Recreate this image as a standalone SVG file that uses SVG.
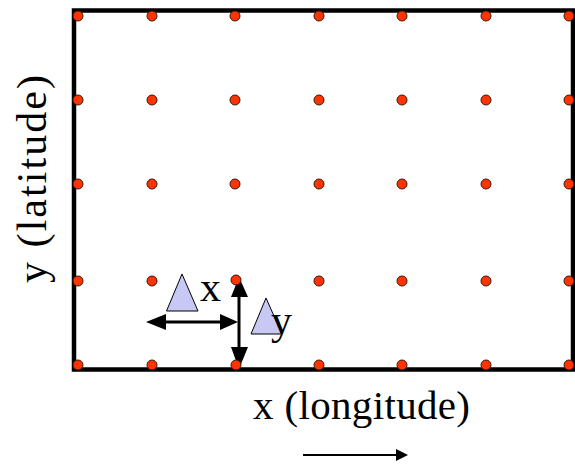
<svg xmlns="http://www.w3.org/2000/svg" width="575" height="466" viewBox="0 0 575 466">
<style>
.dot{fill:#ff3300;stroke:#3a1a10;stroke-width:1}
.lbl{fill:#000}
.tri{fill:#c8c8f4;stroke:#000;stroke-width:1}
.ln{stroke:#000;fill:none}
</style>
<rect x="0" y="0" width="575" height="466" fill="#fff"/>
<g id="frame">
<rect x="74" y="10.5" width="499" height="359" fill="#fff" stroke="#000" stroke-width="4.5"/>
</g>
<g id="connectors">
<line class="ln" x1="164" y1="322" x2="221" y2="322" stroke-width="3"/>
<path d="M146,322 L166,314 L166,330 z" fill="#000"/>
<path d="M238,322 L220,314 L220,330 z" fill="#000"/>
<line class="ln" x1="239" y1="294" x2="239" y2="350" stroke-width="3"/>
<path d="M239,277 L231,297 L248,297 z" fill="#000"/>
<path d="M239,369 L231,347 L248,347 z" fill="#000"/>
<line class="ln" x1="303" y1="455" x2="397" y2="455" stroke-width="2"/>
<path d="M408,455 L396,449 L396,461 z" fill="#000"/>
</g>
<g id="grid-points">
<circle class="dot" cx="78" cy="16" r="5"/><circle class="dot" cx="152" cy="16" r="5"/><circle class="dot" cx="235" cy="16" r="5"/><circle class="dot" cx="319" cy="16" r="5"/><circle class="dot" cx="402" cy="16" r="5"/><circle class="dot" cx="486" cy="16" r="5"/><circle class="dot" cx="569" cy="16" r="5"/>
<circle class="dot" cx="78" cy="100" r="5"/><circle class="dot" cx="152" cy="100" r="5"/><circle class="dot" cx="235" cy="100" r="5"/><circle class="dot" cx="319" cy="100" r="5"/><circle class="dot" cx="402" cy="100" r="5"/><circle class="dot" cx="486" cy="100" r="5"/><circle class="dot" cx="569" cy="100" r="5"/>
<circle class="dot" cx="78" cy="184" r="5"/><circle class="dot" cx="152" cy="184" r="5"/><circle class="dot" cx="235" cy="184" r="5"/><circle class="dot" cx="319" cy="184" r="5"/><circle class="dot" cx="402" cy="184" r="5"/><circle class="dot" cx="486" cy="184" r="5"/><circle class="dot" cx="569" cy="184" r="5"/>
<circle class="dot" cx="78" cy="281" r="5"/><circle class="dot" cx="152" cy="281" r="5"/><circle class="dot" cx="236" cy="280" r="5"/><circle class="dot" cx="319" cy="281" r="5"/><circle class="dot" cx="402" cy="281" r="5"/><circle class="dot" cx="486" cy="281" r="5"/><circle class="dot" cx="569" cy="281" r="5"/>
<circle class="dot" cx="78" cy="365" r="5"/><circle class="dot" cx="152" cy="365" r="5"/><circle class="dot" cx="236" cy="365" r="5"/><circle class="dot" cx="319" cy="365" r="5"/><circle class="dot" cx="402" cy="365" r="5"/><circle class="dot" cx="486" cy="365" r="5"/><circle class="dot" cx="569" cy="365" r="5"/>
</g>
<g id="delta-x">
<polygon class="tri" points="182,274 166.5,311 198,311"/>
<text class="lbl" x="200" y="301" font-size="42" font-family="'Liberation Serif', 'Times New Roman', 'DejaVu Serif', serif">x</text>
</g>
<g id="delta-y">
<polygon class="tri" points="266,298 251,334 282,334"/>
<text class="lbl" x="271" y="334" font-size="42" font-family="'Liberation Serif', 'Times New Roman', 'DejaVu Serif', serif">y</text>
</g>
<g id="axis-labels">
<text class="lbl" x="361.5" y="419" font-size="41" text-anchor="middle" textLength="217" lengthAdjust="spacing" font-family="'Liberation Serif', 'Times New Roman', 'DejaVu Serif', serif">x (longitude)</text>
<text class="lbl" transform="translate(46,179) rotate(-90)" x="0" y="0" font-size="42" text-anchor="middle" textLength="208" lengthAdjust="spacing" font-family="'Liberation Serif', 'Times New Roman', 'DejaVu Serif', serif">y (latitude)</text>
</g>
</svg>
